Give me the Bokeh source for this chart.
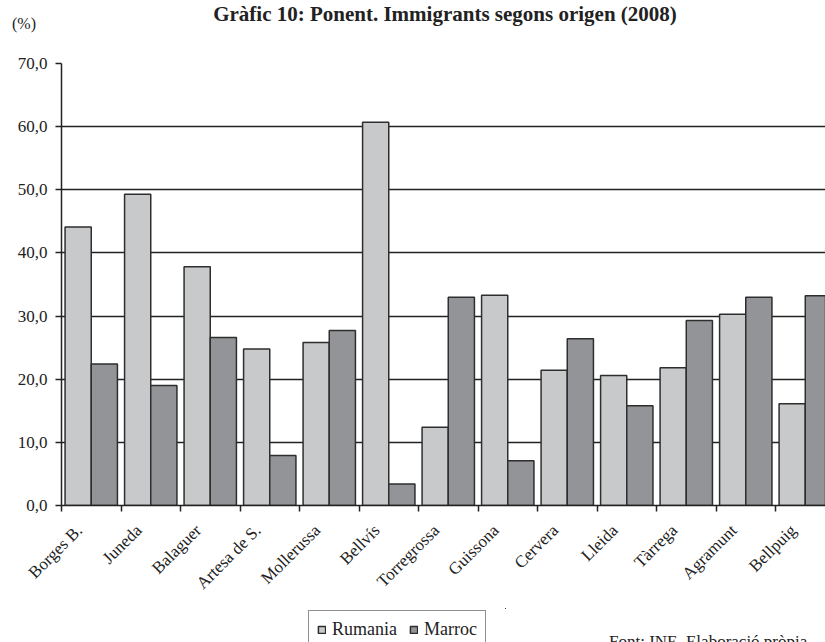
import math
import numpy as np
from bokeh.plotting import figure
from bokeh.layouts import column, row
from bokeh.models import (Range1d, FixedTicker, CustomJSTickFormatter, Legend,
                          LegendItem, Grid, ColumnDataSource, Div, Spacer)
from bokeh.embed import file_html
from bokeh.resources import INLINE

categories = ["Borges B.", "Juneda", "Balaguer", "Artesa de S.", "Mollerussa", "Bellvís",
              "Torregrossa", "Guissona", "Cervera", "Lleida", "Tàrrega", "Agramunt", "Bellpuig"]
rumania = [44.1, 49.3, 37.8, 24.8, 25.8, 60.7, 12.4, 33.3, 21.4, 20.6, 21.8, 30.3, 16.1]
marroc = [22.4, 19.0, 26.6, 7.9, 27.7, 3.4, 33.0, 7.1, 26.4, 15.8, 29.3, 33.0, 33.2]
series_names = ["Rumania", "Marroc"]
y_ticks = [0, 10, 20, 30, 40, 50, 60, 70]
title_text = "Gràfic 10: Ponent. Immigrants segons origen (2008)"
unit_text = "(%)"
source_text = "Font: INE. Elaboració pròpia"

SERIF = "Liberation Serif, Times New Roman, serif"
INK = "#222222"
C_RUM = "#c8c9cb"
C_MAR = "#939497"

idx = np.arange(len(categories))
bw = 0.44
src = ColumnDataSource(dict(xr=idx + 0.5 - bw / 2, xm=idx + 0.5 + bw / 2,
                            rum=rumania, mar=marroc))

# ---------- header ----------
header = Div(width=825, height=50, margin=0, text=f"""
<div style="position:relative;width:825px;height:50px;font-family:'Liberation Serif',serif;color:{INK};">
  <div style="position:absolute;left:12px;top:16px;font-size:16px;line-height:1;white-space:nowrap;">{unit_text}</div>
  <div style="position:absolute;left:445px;top:3px;transform:translateX(-50%);font-size:21px;font-weight:bold;line-height:1.1;white-space:nowrap;">{title_text}</div>
</div>""")

# ---------- main chart ----------
p = figure(width=825, height=558, output_backend="svg", toolbar_location=None,
           x_range=Range1d(0, 12.84), y_range=Range1d(0, 70),
           min_border_left=61, min_border_right=0, min_border_top=13, min_border_bottom=103)
p.outline_line_color = None

r1 = p.vbar(x="xr", top="rum", width=bw, source=src, fill_color=C_RUM,
            line_color="#2e2e2e", line_width=1.5)
r2 = p.vbar(x="xm", top="mar", width=bw, source=src, fill_color=C_MAR,
            line_color="#2e2e2e", line_width=1.5)

p.xgrid.visible = False
p.ygrid.ticker = FixedTicker(ticks=y_ticks[1:-1])
p.ygrid.grid_line_color = INK
p.ygrid.grid_line_width = 1.4
p.add_layout(Grid(dimension=1, ticker=FixedTicker(ticks=[y_ticks[-1]]),
                  grid_line_color="#9a9a9a", grid_line_width=1.2))

ya = p.yaxis[0]
ya.ticker = FixedTicker(ticks=y_ticks)
ya.formatter = CustomJSTickFormatter(code="return tick.toFixed(1).replace('.', ',');")
ya.major_label_text_font = SERIF
ya.major_label_text_font_size = "17px"
ya.major_label_text_color = INK
ya.axis_line_color = INK
ya.axis_line_width = 1.5
ya.major_tick_line_color = INK
ya.major_tick_line_width = 1.5
ya.major_tick_in = 0
ya.major_tick_out = 6
ya.minor_tick_line_color = None
ya.major_label_standoff = 8

xa = p.xaxis[0]
xa.ticker = FixedTicker(ticks=list(idx + 0.3), minor_ticks=list(range(len(categories) + 1)))
xa.formatter = CustomJSTickFormatter(args=dict(names=categories),
                                     code="return names[Math.floor(tick)] || '';")
xa.major_label_orientation = math.pi / 4
xa.major_label_text_font = SERIF
xa.major_label_text_font_size = "17px"
xa.major_label_text_color = INK
xa.axis_line_color = INK
xa.axis_line_width = 1.5
xa.major_tick_line_color = None
xa.major_tick_in = 0
xa.major_tick_out = 0
xa.minor_tick_line_color = INK
xa.minor_tick_line_width = 1.5
xa.minor_tick_in = 0
xa.minor_tick_out = 6
xa.major_label_standoff = 16

# ---------- bottom: legend + source ----------
# legend panel: same bar renderers, viewed through ranges that show no bar
lf = figure(width=200, height=34, output_backend="svg", toolbar_location=None,
            x_range=Range1d(-30, -29), y_range=Range1d(-30, -29), min_border=0,
            x_axis_location=None, y_axis_location=None, margin=0)
lf.outline_line_color = None
lf.border_fill_color = "white"
lf.grid.visible = False
g1 = lf.vbar(x="xr", top="rum", width=bw, source=src, fill_color=C_RUM,
             line_color="#2e2e2e", line_width=1.5)
g2 = lf.vbar(x="xm", top="mar", width=bw, source=src, fill_color=C_MAR,
             line_color="#2e2e2e", line_width=1.5)
legend = Legend(items=[LegendItem(label=series_names[0], renderers=[g1]),
                       LegendItem(label=series_names[1], renderers=[g2])],
                orientation="horizontal", location="top_left",
                label_text_font=SERIF, label_text_font_size="18px", label_text_color=INK,
                glyph_width=9, glyph_height=9, spacing=12, label_standoff=6,
                padding=8, margin=2, border_line_color=INK, border_line_width=1.2,
                background_fill_alpha=1)
lf.add_layout(legend, "center")

footer = Div(width=319, height=34, margin=0, text=f"""
<div style="position:relative;width:319px;height:34px;font-family:'Liberation Serif',serif;color:{INK};">
  <div style="position:absolute;left:103px;top:25px;font-size:17px;line-height:1;white-space:nowrap;">{source_text}</div>
</div>""")

bottom = row(Spacer(width=306, height=34, margin=0), lf, footer, spacing=0)
layout = column(header, p, bottom, spacing=0)

open("out.html", "w").write(file_html(layout, INLINE))
